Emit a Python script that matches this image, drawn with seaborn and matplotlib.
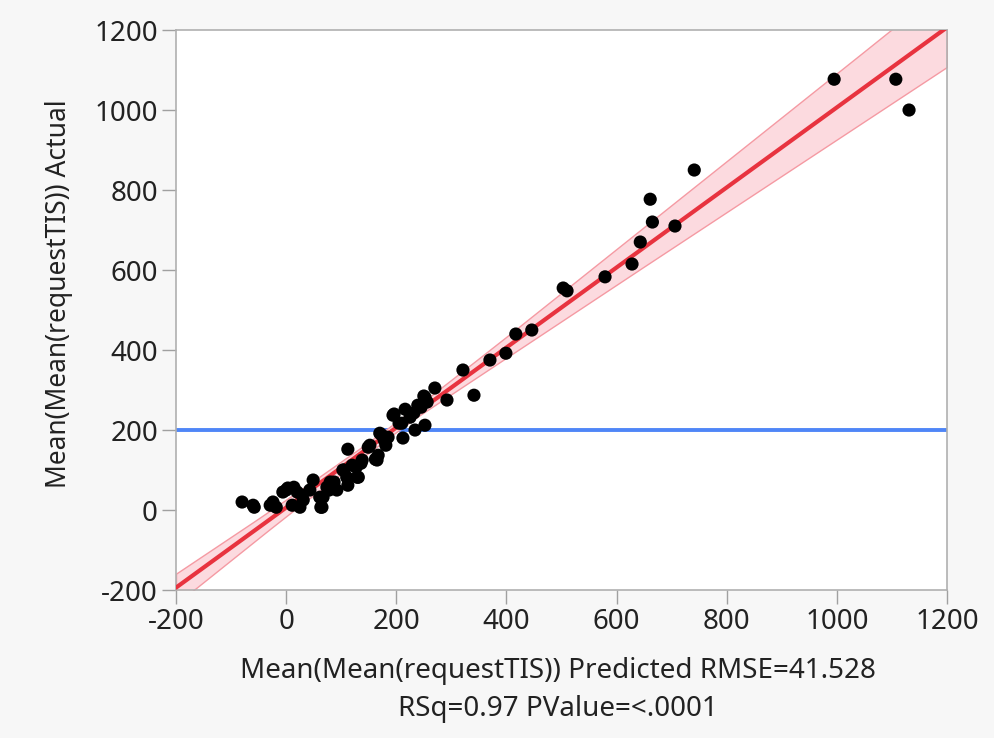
import numpy as np
import pandas as pd
import matplotlib
matplotlib.use("Agg")
import matplotlib.pyplot as plt
import seaborn as sns

predicted = [
    995, 1107, 1131, 741, 661, 665, 706, 643, 628, 579, 503, 510, 446, 417, 399, 370,
    321, 341, 292, 270, 252, 239, 250, 256, 245, 216, 196, 232, 252, 234, 212, 205,
    225, 210, 194, 185, 174, 170, 178, 181, 167, 149, 112, 162, 136, 127, 105, 131,
    112, 87, 78, 49, 67, 63, 0, 14, 31, 43, 61, 74, 80, 92, 103, 110, 120, 129,
    138, 152, 165, -80, -60, -29, -24, -6, 3, 20, 29, 11, 25, -18, 65, -58,
]
actual = [
    1077, 1077, 1000, 850, 777, 720, 710, 670, 615, 583, 555, 548, 450, 440, 392, 375,
    350, 287, 275, 305, 282, 262, 285, 270, 257, 252, 240, 243, 212, 200, 180, 217,
    232, 217, 237, 182, 187, 192, 175, 162, 137, 157, 152, 127, 117, 107, 100, 82,
    62, 70, 50, 75, 32, 7, 50, 57, 25, 50, 32, 57, 70, 50, 100, 82, 112, 82,
    125, 162, 125, 20, 12, 12, 20, 45, 55, 45, 37, 12, 7, 7, 7, 7,
]
mean_line = 200
ticks = [-200, 0, 200, 400, 600, 800, 1000, 1200]
tick_labels = ["-200", "0", "200", "400", "600", "800", "1000", "1200"]
xlabel = "Mean(Mean(requestTIS)) Predicted RMSE=41.528\nRSq=0.97 PValue=<.0001"
ylabel = "Mean(Mean(requestTIS)) Actual"

df = pd.DataFrame({"predicted": predicted, "actual": actual})

sns.set_style("white")
plt.rcParams["font.family"] = ["Noto Sans", "DejaVu Sans"]

fig = plt.figure(figsize=(9.95, 7.38), dpi=100, facecolor="#f7f7f7")
ax = fig.add_axes([0.1769, 0.2005, 0.7749, 0.7588])
ax.set_facecolor("white")
ax.set_xlim(-200, 1200)
ax.set_ylim(-200, 1200)

ax.axhline(mean_line, color="#4f86f7", lw=2.8, zorder=2)

sns.regplot(
    data=df, x="predicted", y="actual", ax=ax, truncate=False, ci=99.9, seed=3,
    n_boot=1000,
    scatter_kws=dict(color="black", s=90, edgecolor="none", alpha=1, zorder=4),
    line_kws=dict(color="#e8333f", lw=3.0, zorder=3),
)
for coll in ax.collections:
    if coll.__class__.__name__ in ("PolyCollection", "FillBetweenPolyCollection"):
        coll.set_alpha(None)
        coll.set_facecolor("#fcdadf")
        coll.set_edgecolor("#f59aa3")
        coll.set_linewidth(1.0)
        coll.set_zorder(2.5)

ax.set_xticks(ticks)
ax.set_xticklabels(tick_labels)
ax.set_yticks(ticks)
ax.set_yticklabels(tick_labels)
ax.tick_params(axis="both", direction="out", length=10, width=1, color="#a0a0a0",
               labelsize=20, labelcolor="#222222", pad=3, bottom=True, left=True)
for side in ["left", "bottom", "top", "right"]:
    ax.spines[side].set_color("#b0b0b0")
    ax.spines[side].set_linewidth(1.2)

ax.set_xlabel(xlabel, fontsize=20, color="#222222", linespacing=1.45)
ax.xaxis.set_label_coords(0.495, -0.12)
ax.xaxis.label.set_verticalalignment("top")
ax.set_ylabel(ylabel, fontsize=19, color="#222222")
ax.yaxis.set_label_coords(-0.152, 0.53)
ax.yaxis.label.set_verticalalignment("center")

fig.savefig("out.png", dpi=100, facecolor=fig.get_facecolor())
